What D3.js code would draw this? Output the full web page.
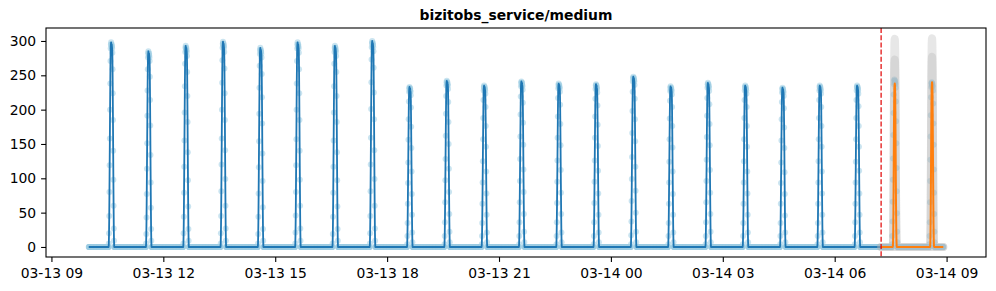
<!DOCTYPE html>
<html>
<head>
<meta charset="utf-8">
<script src="https://cdn.jsdelivr.net/npm/d3@7"></script>
<style>
  body { margin: 0; background: #fff; }
  text { font-family: "DejaVu Sans", sans-serif; }
</style>
</head>
<body>
<div id="plotarea"></div>
<script>
// ---- data ----
var chartTitle = "bizitobs_service/medium";
var startTime = "2024-03-13 10:00:00";
var endTime = "2024-03-14 08:54:40";
var forecastStart = "2024-03-14 07:14:40";
var stepSeconds = 20;
var peakOffsetSeconds = 1940; // each hourly burst starts at hh:32:20
var baseValue = 0;

var peakHours = [
  "2024-03-13 10", "2024-03-13 11", "2024-03-13 12", "2024-03-13 13", "2024-03-13 14",
  "2024-03-13 15", "2024-03-13 16", "2024-03-13 17", "2024-03-13 18", "2024-03-13 19",
  "2024-03-13 20", "2024-03-13 21", "2024-03-13 22", "2024-03-13 23", "2024-03-14 00",
  "2024-03-14 01", "2024-03-14 02", "2024-03-14 03", "2024-03-14 04", "2024-03-14 05",
  "2024-03-14 06", "2024-03-14 07", "2024-03-14 08"
];

var observedPeaks = [
  [5, 20, 45, 80, 119, 158, 200, 238, 271, 289, 295, 298, 295, 292, 295, 292, 289, 283, 259, 224, 185, 140, 98, 60, 27, 9],
  [5, 19, 43, 77, 114, 151, 191, 228, 259, 276, 282, 285, 282, 279, 282, 279, 276, 271, 248, 214, 177, 134, 94, 57, 26, 9],
  [5, 20, 44, 79, 117, 155, 196, 234, 267, 284, 290, 293, 290, 287, 290, 287, 284, 278, 255, 220, 182, 138, 97, 59, 26, 9],
  [5, 20, 45, 81, 120, 158, 200, 239, 272, 290, 296, 299, 296, 293, 296, 293, 290, 284, 260, 224, 185, 141, 99, 60, 27, 9],
  [5, 19, 44, 78, 116, 154, 194, 232, 264, 281, 287, 290, 287, 284, 287, 284, 281, 276, 252, 218, 180, 136, 96, 58, 26, 9],
  [5, 21, 46, 80, 119, 157, 200, 238, 271, 289, 295, 298, 295, 292, 295, 292, 289, 283, 259, 224, 185, 140, 98, 60, 27, 9],
  [5, 19, 44, 79, 117, 155, 196, 234, 267, 284, 290, 293, 290, 287, 290, 287, 284, 278, 255, 220, 182, 138, 97, 59, 26, 9],
  [5, 20, 45, 81, 120, 159, 201, 240, 273, 291, 297, 300, 297, 294, 297, 294, 291, 285, 261, 225, 186, 141, 99, 60, 27, 9],
  [4, 16, 35, 63, 93, 123, 156, 186, 212, 226, 231, 233, 231, 228, 231, 228, 226, 221, 203, 175, 144, 110, 77, 47, 21, 7],
  [4, 16, 36, 65, 97, 128, 162, 194, 220, 235, 240, 242, 240, 237, 240, 237, 235, 230, 211, 182, 150, 114, 80, 48, 22, 7],
  [4, 16, 35, 63, 94, 125, 157, 188, 214, 228, 233, 235, 233, 230, 233, 230, 228, 223, 204, 176, 146, 110, 78, 47, 21, 7],
  [4, 16, 36, 65, 96, 128, 161, 193, 219, 234, 239, 241, 239, 236, 239, 236, 234, 229, 210, 181, 149, 113, 80, 48, 22, 7],
  [4, 16, 36, 64, 95, 126, 159, 190, 217, 231, 236, 238, 236, 233, 236, 233, 231, 226, 207, 179, 148, 112, 79, 48, 21, 7],
  [4, 16, 36, 64, 95, 126, 159, 190, 216, 230, 235, 237, 235, 232, 235, 232, 230, 225, 206, 178, 147, 111, 78, 47, 21, 7],
  [4, 17, 37, 67, 99, 131, 166, 198, 226, 241, 246, 248, 246, 243, 246, 243, 241, 236, 216, 186, 154, 117, 82, 50, 22, 7],
  [4, 16, 35, 63, 94, 124, 157, 187, 213, 227, 232, 234, 232, 229, 232, 229, 227, 222, 204, 176, 145, 110, 77, 47, 21, 7],
  [4, 16, 36, 65, 96, 127, 160, 191, 217, 232, 237, 239, 237, 234, 237, 234, 232, 227, 208, 179, 148, 112, 79, 48, 22, 7],
  [4, 16, 35, 63, 94, 125, 157, 188, 214, 228, 233, 235, 233, 230, 233, 230, 228, 223, 204, 176, 146, 110, 78, 47, 21, 7],
  [4, 16, 35, 63, 93, 123, 155, 186, 211, 225, 230, 232, 230, 227, 230, 227, 225, 220, 202, 174, 144, 109, 77, 46, 21, 7],
  [4, 16, 35, 63, 94, 125, 157, 188, 214, 228, 233, 235, 233, 230, 233, 230, 228, 223, 204, 176, 146, 110, 78, 47, 21, 7],
  [4, 16, 36, 63, 94, 124, 157, 188, 214, 228, 233, 235, 233, 231, 233, 230, 228, 223, 205, 176, 146, 111, 78, 47, 21, 7],
  [4, 16, 37, 66, 98, 129, 163, 195, 222, 237, 242, 244, 242, 239, 242, 239, 237, 232, 212, 183, 151, 115, 81, 49, 22, 7],
  [4, 16, 36, 65, 96, 127, 161, 192, 218, 233, 238, 240, 238, 235, 238, 235, 233, 228, 209, 180, 149, 113, 79, 48, 22, 7]
];

// forecast (starts at the red line)
var forecastHours = ["2024-03-14 07", "2024-03-14 08"];
var medianPeaks = [
  [0, 0, 0, 0, 2, 10, 32, 72, 122, 172, 210, 230, 236, 238, 235, 222, 190, 145, 100, 60, 28, 10, 2, 0, 0, 0],
  [0, 0, 0, 0, 2, 11, 34, 75, 125, 175, 212, 232, 238, 240, 237, 224, 192, 147, 101, 61, 29, 10, 2, 0, 0, 0]
];
var upperPeaks = [
  [0, 0, 0, 0, 3, 15, 45, 100, 165, 225, 270, 295, 302, 303, 300, 285, 245, 190, 130, 80, 40, 15, 4, 0, 0, 0],
  [0, 0, 0, 0, 3, 16, 46, 102, 167, 227, 272, 296, 303, 304, 301, 286, 246, 191, 131, 81, 41, 15, 4, 0, 0, 0]
];
var innerPeaks = [
  [0, 0, 0, 0, 2, 12, 38, 88, 148, 205, 245, 266, 272, 273, 270, 258, 222, 172, 118, 72, 36, 13, 3, 0, 0, 0],
  [0, 0, 0, 0, 2, 13, 40, 90, 151, 209, 249, 270, 276, 277, 274, 262, 225, 174, 120, 73, 37, 13, 3, 0, 0, 0]
];

var yTicks = [0, 50, 100, 150, 200, 250, 300];

// ---- layout ----
var W = 996, H = 291;
var mLeft = 46, mRight = 986, mTop = 28, mBottom = 257;

var parseT = d3.utcParse("%Y-%m-%d %H:%M:%S");
var parseH = d3.utcParse("%Y-%m-%d %H");

function buildSeries(from, to, hours, peaks) {
  var byTime = new Map();
  hours.forEach(function(h, i) {
    var h0 = +parseH(h);
    peaks[i].forEach(function(v, k) {
      byTime.set(h0 + (peakOffsetSeconds + k * stepSeconds) * 1000, v);
    });
  });
  var out = [];
  for (var t = +parseT(from); t <= +parseT(to); t += stepSeconds * 1000) {
    out.push({ t: new Date(t), v: byTime.has(t) ? byTime.get(t) : baseValue });
  }
  return out;
}

var observed = buildSeries(startTime, endTime, peakHours, observedPeaks);
var context = observed.filter(function(d) { return d.t <= parseT(forecastStart); });
var median = buildSeries(forecastStart, endTime, forecastHours, medianPeaks);
var upper = buildSeries(forecastStart, endTime, forecastHours, upperPeaks);
var inner = buildSeries(forecastStart, endTime, forecastHours, innerPeaks);

// matplotlib style 5% margins
var t0 = parseT(startTime), t1 = parseT(endTime);
var pad = (t1 - t0) * 0.05;
var x = d3.scaleUtc().domain([new Date(+t0 - pad), new Date(+t1 + pad)]).range([mLeft, mRight]);
var y = d3.scaleLinear().domain([-14.6, 318.9]).range([mBottom, mTop]);

var svg = d3.select("#plotarea").append("svg")
  .attr("width", W)
  .attr("height", H);

svg.append("clipPath").attr("id", "clip")
  .append("rect").attr("x", mLeft).attr("y", mTop)
  .attr("width", mRight - mLeft).attr("height", mBottom - mTop);

var plot = svg.append("g").attr("clip-path", "url(#clip)");

var line = d3.line()
  .x(function(d) { return x(d.t); })
  .y(function(d) { return y(d.v); });

// observed points (light halo)
plot.append("g").selectAll("circle").data(observed).enter().append("circle")
  .attr("cx", function(d) { return x(d.t); })
  .attr("cy", function(d) { return y(d.v); })
  .attr("r", 3)
  .attr("fill", "#9fcde4")
  .attr("fill-opacity", 0.55);

// observed context line
plot.append("path").datum(context)
  .attr("d", line)
  .attr("fill", "none")
  .attr("stroke", "#1f77b4")
  .attr("stroke-width", 1.8)
  .attr("stroke-linejoin", "round");

// forecast spread (wide translucent grey strokes)
[upper, inner].forEach(function(s) {
  plot.append("path").datum(s)
    .attr("d", line)
    .attr("fill", "none")
    .attr("stroke", "#b0b0b0")
    .attr("stroke-opacity", 0.3)
    .attr("stroke-width", 8)
    .attr("stroke-linejoin", "round")
    .attr("stroke-linecap", "round");
});

// forecast median
plot.append("path").datum(median)
  .attr("d", line)
  .attr("fill", "none")
  .attr("stroke", "#ff7f0e")
  .attr("stroke-width", 2)
  .attr("stroke-linejoin", "round");

// forecast start marker
svg.append("line")
  .attr("x1", x(parseT(forecastStart))).attr("x2", x(parseT(forecastStart)))
  .attr("y1", mTop).attr("y2", mBottom)
  .attr("stroke", "#e00000")
  .attr("stroke-width", 1.2)
  .attr("stroke-dasharray", "5,2.2");

// axes
var xAxis = d3.axisBottom(x)
  .ticks(d3.utcHour.every(3))
  .tickFormat(d3.utcFormat("%m-%d %H"))
  .tickSize(4.9).tickSizeOuter(0);

var gx = svg.append("g").attr("transform", "translate(0," + mBottom + ")").call(xAxis);
gx.select(".domain").remove();
gx.selectAll("line").attr("stroke", "#000").attr("stroke-width", 1.1);
gx.selectAll("text")
  .attr("y", 21.3).attr("dy", null)
  .attr("fill", "#000")
  .style("font-size", "13.9px");

var yAxis = d3.axisLeft(y).tickValues(yTicks).tickSize(4.9).tickPadding(4.9).tickSizeOuter(0);
var gy = svg.append("g").attr("transform", "translate(" + mLeft + ",0)").call(yAxis);
gy.select(".domain").remove();
gy.selectAll("line").attr("stroke", "#000").attr("stroke-width", 1.1);
gy.selectAll("text")
  .attr("fill", "#000")
  .style("font-size", "13.9px");

// frame
svg.append("rect")
  .attr("x", mLeft).attr("y", mTop)
  .attr("width", mRight - mLeft).attr("height", mBottom - mTop)
  .attr("fill", "none")
  .attr("stroke", "#000")
  .attr("stroke-width", 1.1);

// title
svg.append("text")
  .attr("x", (mLeft + mRight) / 2)
  .attr("y", 20)
  .attr("text-anchor", "middle")
  .style("font-size", "13.9px")
  .style("font-weight", "bold")
  .text(chartTitle);
</script>
</body>
</html>
